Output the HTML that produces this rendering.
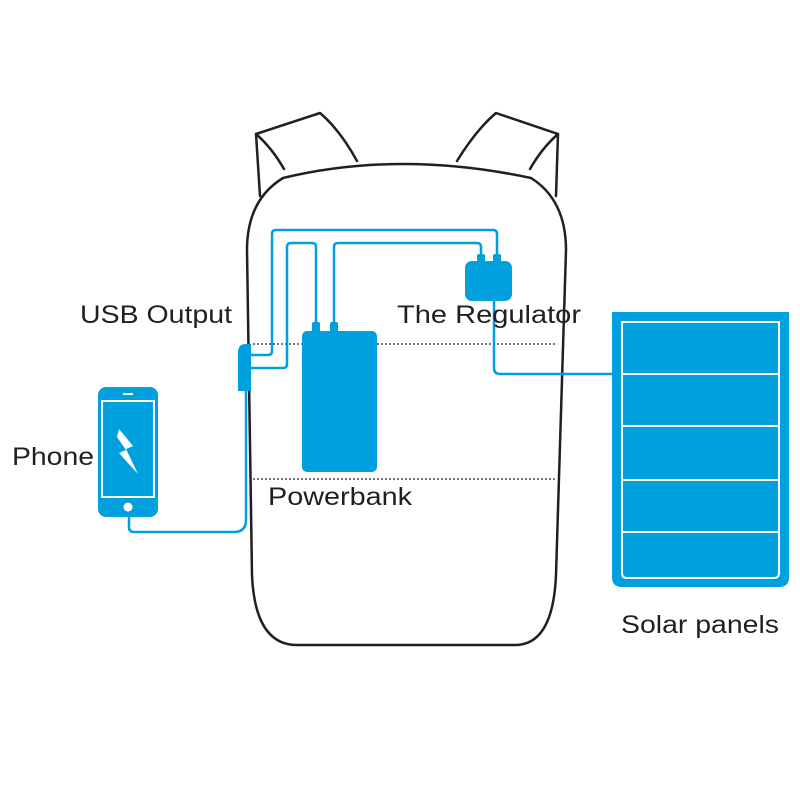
<!DOCTYPE html>
<html><head><meta charset="utf-8"><style>html,body{margin:0;padding:0;background:#fff}svg{display:block}</style></head>
<body>
<svg width="800" height="800" viewBox="0 0 800 800" xmlns="http://www.w3.org/2000/svg">
<g fill="none" stroke="#231f20" stroke-width="2.5" stroke-linejoin="round" stroke-linecap="round">
<path d="M260,196 L256,134 L320,113 Q340,130 357,161"/>
<path d="M256,134 Q272,148 284,169"/>
<path d="M556,196 L558,134 L496,113 Q476,130 457,161"/>
<path d="M558,134 Q542,148 530,169"/>
<path d="M252,575 L247,250 Q247,200 283,178 Q400,150 531,178 Q566,200 566,250 L556,575 Q553,645 515,645 L297,645 Q255,645 252,575 Z" fill="#fff"/>
</g>
<g stroke="#777" stroke-width="2" stroke-dasharray="2,2">
<line x1="253" y1="344" x2="557" y2="344"/>
<line x1="253" y1="479" x2="557" y2="479"/>
</g>
<g fill="none" stroke="#00a0df" stroke-width="2.5" stroke-linejoin="round">
<path d="M497,256 L497,234 Q497,230 493,230 L276,230 Q272,230 272,234 L272,351 Q272,355 268,355 L250,355"/>
<path d="M316,324 L316,247 Q316,243 312,243 L291,243 Q287,243 287,247 L287,364 Q287,368 283,368 L250,368"/>
<path d="M334,324 L334,247 Q334,243 338,243 L477,243 Q481,243 481,247 L481,258"/>
<path d="M494,300 L494,368 Q494,374 500,374 L613,374"/>
<path d="M246,390 L246,520 Q246,532 234,532 L134,532 Q129,532 129,527 L129,515"/>
</g>
<g fill="#00a0df">
<rect x="465" y="261" width="47" height="40" rx="7"/>
<rect x="477" y="254" width="8" height="9" rx="2"/>
<rect x="493" y="254" width="8" height="9" rx="2"/>
<rect x="302" y="331" width="75" height="141" rx="5"/>
<rect x="312" y="322" width="8" height="11" rx="2"/>
<rect x="330" y="322" width="8" height="11" rx="2"/>
<path d="M238,391 L238,352 Q238,344 246,344 L251,344 L251,391 Z"/>
<rect x="98" y="387" width="60" height="130" rx="8"/>
<path d="M612,312 L789,312 L789,577 Q789,587 779,587 L622,587 Q612,587 612,577 Z"/>
</g>
<g fill="none" stroke="#fff" stroke-width="2">
<rect x="102" y="401" width="52" height="96"/>
<circle cx="128" cy="507" r="4.5" fill="#fff" stroke="none"/>
<line x1="123" y1="394" x2="133" y2="394"/>
<path d="M622,322 L779,322 L779,573 Q779,578 774,578 L627,578 Q622,578 622,573 Z"/>
<line x1="622" y1="374" x2="779" y2="374"/>
<line x1="622" y1="426" x2="779" y2="426"/>
<line x1="622" y1="480" x2="779" y2="480"/>
<line x1="622" y1="532" x2="779" y2="532"/>
</g>
<path d="M119,429 L133,446 L126,449 L138,474 L119,453 L126,450 L117,437 Z" fill="#fff"/>
<g font-family="Liberation Sans, Arial, sans-serif" font-size="25" fill="#231f20">
<text x="80" y="323" textLength="152" lengthAdjust="spacingAndGlyphs">USB Output</text>
<text x="397" y="323" textLength="184" lengthAdjust="spacingAndGlyphs">The Regulator</text>
<text x="12" y="465" textLength="82" lengthAdjust="spacingAndGlyphs">Phone</text>
<text x="268" y="505" textLength="144" lengthAdjust="spacingAndGlyphs">Powerbank</text>
<text x="621" y="633" textLength="158" lengthAdjust="spacingAndGlyphs">Solar panels</text>
</g>
</svg>
</body></html>
